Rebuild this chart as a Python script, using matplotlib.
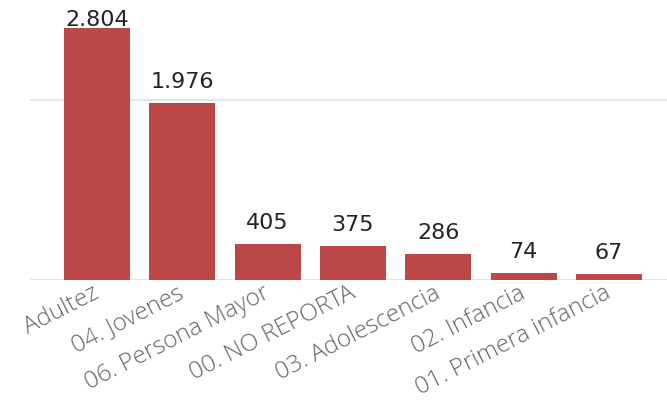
import matplotlib
matplotlib.use("Agg")
import matplotlib.pyplot as plt
from matplotlib.transforms import ScaledTranslation

# Data
categories = [
    "Adultez",
    "04. Jovenes",
    "06. Persona Mayor",
    "00. NO REPORTA",
    "03. Adolescencia",
    "02. Infancia",
    "01. Primera infancia",
]
values = [2804, 1976, 405, 375, 286, 74, 67]

bar_color = "#BC4747"
grid_color = "#E6E6E6"


def fmt(v):
    # thousands separator is a period in the reference
    return f"{v:,}".replace(",", ".")


fig = plt.figure(figsize=(6.67, 4.04), dpi=100)
ax = fig.add_axes([0.045, 0.307, 0.955, 0.693])

x = list(range(len(categories)))
ax.bar(x, values, width=0.775, color=bar_color, zorder=3)

ymax = 3118
ax.set_xlim(-0.785, 6.68)
ax.set_ylim(0, ymax)

# labels sit ~15px above the bar, pushed down when they would leave the chart
px_per_unit = ax.get_window_extent().height / ymax
gap = 15 / px_per_unit
cap = ymax - 26 / px_per_unit
for xi, v in zip(x, values):
    ax.text(xi, min(v + gap, cap), fmt(v), ha="center", va="baseline",
            fontsize=16, color="#252423", family="DejaVu Sans")

ax.set_yticks([0, 2000])
ax.yaxis.grid(True, color=grid_color, linewidth=1.5, zorder=0)
ax.tick_params(axis="y", left=False, labelleft=False)
ax.tick_params(axis="x", length=0, pad=1)
ax.set_xticks(x)
ax.set_xticklabels(categories, rotation=27, ha="right", rotation_mode="anchor",
                   fontsize=17.5, color="#686868", family="Open Sans",
                   fontweight="light")
shift = ScaledTranslation(-5 / 100, 0, fig.dpi_scale_trans)
for lbl in ax.get_xticklabels():
    lbl.set_transform(lbl.get_transform() + shift)
for s in ax.spines.values():
    s.set_visible(False)

fig.savefig("out.png", dpi=100)
plt.close(fig)
